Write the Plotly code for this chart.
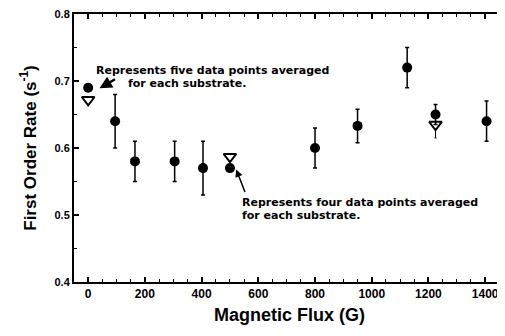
import plotly.graph_objects as go

# Filled circles (mean values with error bars)
flux_circle = [0, 95, 165, 305, 405, 500, 800, 950, 1125, 1225, 1405]
rate_circle = [0.69, 0.64, 0.58, 0.58, 0.57, 0.57, 0.60, 0.633, 0.72, 0.65, 0.64]
err_circle = [0, 0.04, 0.03, 0.03, 0.04, 0, 0.03, 0.025, 0.03, 0.015, 0.03]

# Open triangles
flux_tri = [0, 500, 1225]
rate_tri = [0.672, 0.587, 0.635]
err_tri_minus = [0, 0, 0.02]

x_ticks = [0, 200, 400, 600, 800, 1000, 1200, 1400]
y_ticks = [0.4, 0.5, 0.6, 0.7, 0.8]
y_tick_text = ["0.4", "0.5", "0.6", "0.7", "0.8"]

FONT = "Arial, Liberation Sans, Helvetica, sans-serif"
ANN_FONT = "DejaVu Sans, Arial, sans-serif"

fig = go.Figure()
fig.add_trace(go.Scatter(
    x=flux_tri, y=rate_tri, mode="markers",
    marker=dict(symbol="triangle-down", size=11, color="white",
                line=dict(color="black", width=2)),
    error_y=dict(type="data", symmetric=False, array=[0] * len(err_tri_minus),
                 arrayminus=err_tri_minus, color="black", thickness=1, width=1),
    showlegend=False))
fig.add_trace(go.Scatter(
    x=flux_circle, y=rate_circle, mode="markers",
    marker=dict(symbol="circle", size=10, color="black"),
    error_y=dict(type="data", array=err_circle, color="black", thickness=1.5, width=2),
    showlegend=False))

ann_font = dict(family=ANN_FONT, size=11, color="black")
annotations = [
    dict(x=22, y=0.715, xref="x", yref="y", text="<b>Represents five data points averaged</b>",
         showarrow=False, xanchor="left", yanchor="middle", font=ann_font),
    dict(x=135, y=0.696, xref="x", yref="y", text="<b>for each substrate.</b>",
         showarrow=False, xanchor="left", yanchor="middle", font=ann_font),
    dict(x=535, y=0.519, xref="x", yref="y", text="<b>Represents four data points averaged</b>",
         showarrow=False, xanchor="left", yanchor="middle", font=ann_font),
    dict(x=535, y=0.499, xref="x", yref="y", text="<b>for each substrate.</b>",
         showarrow=False, xanchor="left", yanchor="middle", font=ann_font),
    dict(x=40, y=0.689, xref="x", yref="y", ax=100, ay=0.704, axref="x", ayref="y",
         text="", showarrow=True, arrowhead=2, arrowsize=1, arrowwidth=2.5, arrowcolor="black"),
    dict(x=522, y=0.568, xref="x", yref="y", ax=555, ay=0.532, axref="x", ayref="y",
         text="", showarrow=True, arrowhead=2, arrowsize=1, arrowwidth=1.5, arrowcolor="black"),
]

# The page body adds an 8px offset, so the figure is sized to fill the 505x336 window exactly.
fig.update_layout(
    width=497, height=328,
    margin=dict(l=66, r=0, t=6, b=54, autoexpand=False),
    paper_bgcolor="white", plot_bgcolor="white",
    font=dict(family=FONT, color="black"),
    annotations=annotations,
    xaxis=dict(range=[-50, 1470], tickvals=x_ticks, ticktext=[f"<b>{v}</b>" for v in x_ticks],
               ticks="inside", ticklen=5, tickwidth=1.5, tickcolor="black",
               showline=True, linecolor="black", linewidth=2, mirror="ticks",
               showgrid=False, zeroline=False, tickfont=dict(size=12, family=FONT),
               automargin=False, ticklabeloverflow="allow",
               minor=dict(dtick=50, ticks="inside", ticklen=3, tickcolor="black", tickwidth=1),
               title=dict(text="<b>Magnetic Flux (G)</b>", font=dict(size=18, family=FONT), standoff=8)),
    yaxis=dict(range=[0.4, 0.8], tickvals=y_ticks, ticktext=[f"<b>{t}</b>" for t in y_tick_text],
               ticks="inside", ticklen=5, tickwidth=1.5, tickcolor="black",
               showline=True, linecolor="black", linewidth=2,
               showgrid=False, zeroline=False, tickfont=dict(size=11, family=FONT),
               automargin=False, ticklabeloverflow="allow",
               minor=dict(dtick=0.05, ticks="inside", ticklen=3, tickcolor="black", tickwidth=1),
               title=dict(text="<b>First Order Rate (s<sup>-1</sup>)</b>", font=dict(size=17, family=FONT), standoff=14)),
)

fig.write_html("out.html")
